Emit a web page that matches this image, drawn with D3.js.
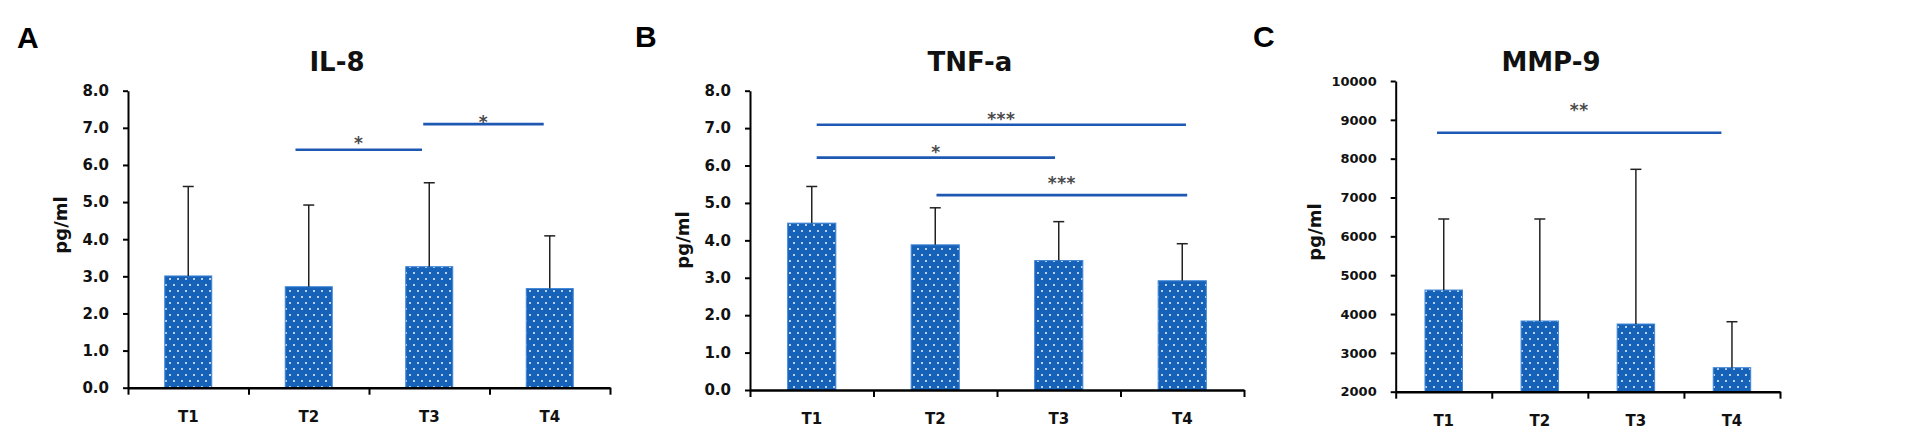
<!DOCTYPE html>
<html>
<head>
<meta charset="utf-8">
<script src="https://cdn.jsdelivr.net/npm/d3@7"></script>
<style>
  body { margin: 0; background: #fff; }
  svg { display: block; }
</style>
</head>
<body>
<div id="chart"></div>
<script>
// categories and values
const categories = ["T1", "T2", "T3", "T4"];

const il8Mean = [3.01, 2.72, 3.26, 2.67];
const il8Sd = [2.41, 2.20, 2.26, 1.42];
const il8Sig = [
    {from: 1.39, to: 2.44, y: 6.41, label: "*", labelY: 6.70},
    {from: 2.45, to: 3.45, y: 7.10, label: "*", labelY: 7.27}
];

const tnfMean = [4.46, 3.88, 3.46, 2.92];
const tnfSd = [0.98, 0.99, 1.04, 0.99];
const tnfSig = [
    {from: 0.54, to: 3.53, y: 7.09, label: "***", labelY: 7.35},
    {from: 0.54, to: 2.47, y: 6.21, label: "*", labelY: 6.48},
    {from: 1.51, to: 3.54, y: 5.21, label: "***", labelY: 5.64}
];

const mmpMean = [4618, 3820, 3743, 2618];
const mmpSd = [1829, 2627, 3983, 1184];
const mmpSig = [
    {from: 0.43, to: 3.39, y: 8668, label: "**", labelY: 9356}
];

const yTicks8 = [0, 1, 2, 3, 4, 5, 6, 7, 8];
const yTicksMmp = [2000, 3000, 4000, 5000, 6000, 7000, 8000, 9000, 10000];

// panel layout (pixels)
const panels = [
    {letter: "A", title: "IL-8", mean: il8Mean, sd: il8Sd, sig: il8Sig,
     domain: [0, 8], ticks: yTicks8, fmt: d3.format(".1f"), tickSize: 15,
     x0: 128, x1: 610, top: 90.7, bottom: 387.7,
     letterX: 17, letterY: 48, titleX: 337, labelX: 61, labelY: 225},
    {letter: "B", title: "TNF-a", mean: tnfMean, sd: tnfSd, sig: tnfSig,
     domain: [0, 8], ticks: yTicks8, fmt: d3.format(".1f"), tickSize: 15,
     x0: 750, x1: 1244, top: 90.7, bottom: 390,
     letterX: 635, letterY: 47, titleX: 970, labelX: 683, labelY: 240},
    {letter: "C", title: "MMP-9", mean: mmpMean, sd: mmpSd, sig: mmpSig,
     domain: [2000, 10000], ticks: yTicksMmp, fmt: d3.format("d"), tickSize: 13,
     x0: 1395.7, x1: 1780, top: 81, bottom: 391.7,
     letterX: 1253, letterY: 47, titleX: 1551, labelX: 1315, labelY: 232}
];

const W = 1910, H = 441;
const barColor = "#1762b9";
const lineColor = "#1f58b3";
const font = "'DejaVu Sans', sans-serif";

const svg = d3.select("#chart").append("svg")
    .attr("width", W)
    .attr("height", H);

// dotted fill for the bars
const pat = svg.append("defs").append("pattern")
    .attr("id", "dots")
    .attr("patternUnits", "userSpaceOnUse")
    .attr("width", 8)
    .attr("height", 12);
pat.append("rect").attr("width", 8).attr("height", 12).attr("fill", barColor);
pat.append("circle").attr("cx", 2).attr("cy", 3).attr("r", 1).attr("fill", "#eef5fd");
pat.append("circle").attr("cx", 6).attr("cy", 9).attr("r", 1).attr("fill", "#eef5fd");

panels.forEach(p => {
    const g = svg.append("g");

    const x = d3.scaleBand()
        .domain(categories)
        .range([p.x0, p.x1]);
    const pos = d3.scaleLinear()
        .domain([0, categories.length])
        .range([p.x0, p.x1]);
    const y = d3.scaleLinear()
        .domain(p.domain)
        .range([p.bottom, p.top]);

    const bw = x.bandwidth() * 0.39;

    // bars
    g.selectAll("rect.bar")
        .data(p.mean)
        .enter().append("rect")
        .attr("class", "bar")
        .attr("x", (d, i) => x(categories[i]) + x.bandwidth() / 2 - bw / 2)
        .attr("width", bw)
        .attr("y", d => y(d))
        .attr("height", d => y(p.domain[0]) - y(d))
        .attr("fill", "url(#dots)")
        .attr("stroke", "#3f86d6")
        .attr("stroke-width", 1);

    // error bars (upper only)
    const err = g.selectAll("g.err")
        .data(p.mean)
        .enter().append("g")
        .attr("class", "err");
    err.append("line")
        .attr("x1", (d, i) => x(categories[i]) + x.bandwidth() / 2)
        .attr("x2", (d, i) => x(categories[i]) + x.bandwidth() / 2)
        .attr("y1", d => y(d))
        .attr("y2", (d, i) => y(d + p.sd[i]))
        .attr("stroke", "#222")
        .attr("stroke-width", 1.5);
    err.append("line")
        .attr("x1", (d, i) => x(categories[i]) + x.bandwidth() / 2 - 5.5)
        .attr("x2", (d, i) => x(categories[i]) + x.bandwidth() / 2 + 5.5)
        .attr("y1", (d, i) => y(d + p.sd[i]))
        .attr("y2", (d, i) => y(d + p.sd[i]))
        .attr("stroke", "#222")
        .attr("stroke-width", 1.5);

    // y axis
    const yAxis = g.append("g")
        .attr("transform", "translate(" + p.x0 + ",0)")
        .call(d3.axisLeft(y).tickValues(p.ticks).tickFormat(p.fmt)
            .tickSize(5).tickPadding(14).tickSizeOuter(0));
    yAxis.select(".domain").attr("stroke", "#000").attr("stroke-width", 2);
    yAxis.selectAll(".tick line").attr("stroke", "#000").attr("stroke-width", 2);
    yAxis.selectAll(".tick text")
        .attr("fill", "#111")
        .style("font-family", font)
        .style("font-weight", "bold")
        .style("font-size", p.tickSize + "px");

    // x axis: ticks sit between categories
    const xAxis = g.append("g")
        .attr("transform", "translate(0," + p.bottom + ")")
        .call(d3.axisBottom(pos).tickValues(d3.range(categories.length + 1))
            .tickFormat("").tickSize(7).tickSizeOuter(0));
    xAxis.select(".domain").attr("stroke", "#000").attr("stroke-width", 2.5);
    xAxis.selectAll(".tick line").attr("stroke", "#000").attr("stroke-width", 2);

    g.selectAll("text.cat")
        .data(categories)
        .enter().append("text")
        .attr("class", "cat")
        .attr("x", d => x(d) + x.bandwidth() / 2)
        .attr("y", p.bottom + 34)
        .attr("text-anchor", "middle")
        .style("font-family", font)
        .style("font-weight", "bold")
        .style("font-size", "15px")
        .attr("fill", "#111")
        .text(d => d);

    // significance brackets
    g.selectAll("line.sig")
        .data(p.sig)
        .enter().append("line")
        .attr("class", "sig")
        .attr("x1", d => pos(d.from))
        .attr("x2", d => pos(d.to))
        .attr("y1", d => y(d.y))
        .attr("y2", d => y(d.y))
        .attr("stroke", lineColor)
        .attr("stroke-width", 2.6);
    g.selectAll("text.sig")
        .data(p.sig)
        .enter().append("text")
        .attr("class", "sig")
        .attr("x", d => (pos(d.from) + pos(d.to)) / 2)
        .attr("y", d => y(d.labelY) + 10)
        .attr("text-anchor", "middle")
        .style("font-family", font)
        .style("font-weight", "bold")
        .style("font-size", "17px")
        .style("letter-spacing", "0.5px")
        .attr("fill", "#4a4a4a")
        .text(d => d.label);

    // title, panel letter, axis label
    g.append("text")
        .attr("x", p.titleX)
        .attr("y", 71)
        .attr("text-anchor", "middle")
        .style("font-family", font)
        .style("font-weight", "bold")
        .style("font-size", "26px")
        .attr("fill", "#111")
        .text(p.title);

    g.append("text")
        .attr("x", p.letterX)
        .attr("y", p.letterY)
        .style("font-family", "'Liberation Sans', Arial, sans-serif")
        .style("font-weight", "bold")
        .style("font-size", "30px")
        .attr("fill", "#000")
        .text(p.letter);

    g.append("text")
        .attr("transform", "translate(" + (p.labelX + 6) + "," + p.labelY + ") rotate(-90)")
        .attr("text-anchor", "middle")
        .style("font-family", font)
        .style("font-weight", "bold")
        .style("font-size", "18px")
        .attr("fill", "#111")
        .text("pg/ml");
});
</script>
</body>
</html>
